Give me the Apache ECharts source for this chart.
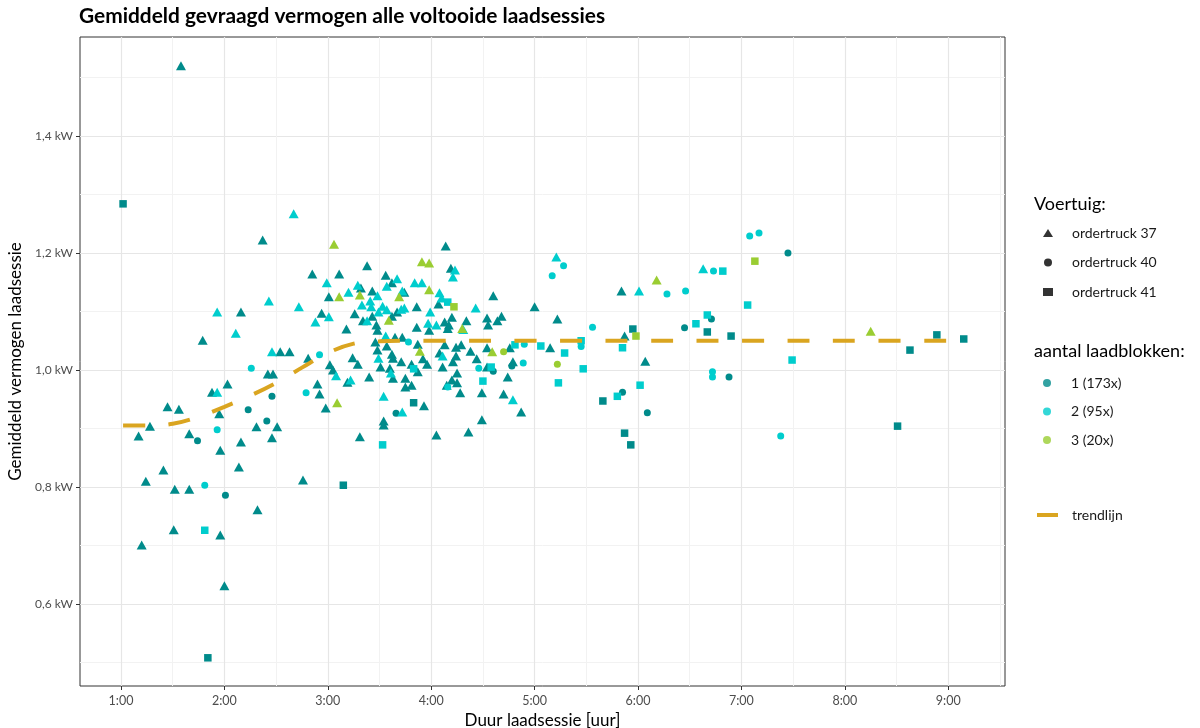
<!DOCTYPE html>
<html><head><meta charset="utf-8">
<script src="https://cdn.jsdelivr.net/npm/echarts@6/dist/echarts.min.js"></script>
<style>html,body{margin:0;padding:0;background:#fff}#c{width:1200px;height:728px}</style>
</head><body><div id="c"></div>
<script>
// ---- axis ticks ----
const xTickValues = [1, 2, 3, 4, 5, 6, 7, 8, 9];
const xMinorValues = [1.5, 2.5, 3.5, 4.5, 5.5, 6.5, 7.5, 8.5, 9.5];
const yTickValues = [0.6, 0.8, 1.0, 1.2, 1.4];
const yMinorValues = [0.5, 0.7, 0.9, 1.1, 1.3, 1.5];

// ---- legend labels ----
const vehicleNames = ['ordertruck 37', 'ordertruck 40', 'ordertruck 41'];
const blockNames = ['1 (173x)', '2 (95x)', '3 (20x)'];

// ---- data: [duur (uur), vermogen (kW)] ----
// ordertruck 37 (triangle)
const t37_b1 = [
 [1.58,1.520],[2.37,1.222],[2.85,1.164],[3.11,1.164],[3.38,1.178],[3.01,1.125],[3.32,1.140],[2.16,1.099],
 [2.94,1.097],[3.18,1.070],[3.26,1.096],[3.43,1.092],[3.34,1.084],[1.79,1.051],[3.47,1.077],[2.54,1.031],
 [2.63,1.031],[2.81,1.020],[2.42,0.993],[2.47,0.993],[3.02,1.009],[3.05,1.000],[3.24,1.021],[3.29,1.010],
 [3.40,0.988],[3.19,0.979],[2.90,0.976],[2.92,0.959],[2.98,0.935],[2.03,0.976],[1.88,0.962],[1.95,0.925],
 [1.45,0.937],[1.56,0.933],[1.28,0.904],[1.17,0.887],[1.66,0.891],[2.31,0.903],[2.51,0.903],[2.46,0.884],
 [2.16,0.877],[1.96,0.863],[3.31,0.886],[2.14,0.834],[1.41,0.829],[1.24,0.810],[1.52,0.796],[1.66,0.796],
 [2.76,0.812],[2.32,0.761],[1.51,0.727],[1.96,0.718],[1.20,0.701],[2.00,0.631],[3.43,1.135],[3.56,1.162],
 [3.62,1.149],[3.74,1.133],[3.62,1.092],[3.67,1.099],[3.48,1.068],[3.65,1.056],[3.72,1.056],[4.14,1.212],
 [4.19,1.174],[4.60,1.127],[4.07,1.113],[3.86,1.108],[4.20,1.090],[4.13,1.082],[4.17,1.077],[4.34,1.084],
 [4.54,1.089],[4.64,1.084],[4.68,1.092],[4.55,1.077],[3.86,1.073],[3.98,1.068],[4.16,1.071],[3.46,1.048],
 [3.48,1.034],[3.57,1.041],[3.62,1.027],[3.63,1.020],[3.71,1.014],[3.51,1.005],[3.60,1.003],[3.63,0.986],
 [3.75,0.986],[3.75,0.971],[3.54,0.913],[3.54,0.906],[3.87,1.044],[4.13,1.043],[4.24,1.039],[4.29,1.043],
 [4.38,1.032],[4.54,1.038],[4.76,1.038],[4.08,1.029],[4.24,1.024],[3.92,1.019],[4.44,1.019],[3.81,1.010],
 [3.96,1.010],[4.11,1.005],[4.21,1.014],[4.54,1.005],[3.87,0.997],[4.79,1.014],[4.25,0.995],[3.81,0.974],
 [4.20,0.983],[4.15,0.974],[4.25,0.978],[4.74,0.988],[4.28,0.961],[4.49,0.961],[4.70,0.959],[3.93,0.939],
 [4.87,0.928],[4.49,0.915],[4.05,0.889],[4.36,0.894],[5.00,1.108],[5.22,1.087],[5.15,1.038],[5.84,1.135],
 [5.87,1.058],[6.07,1.015]
];
const t37_b2 = [
 [2.67,1.267],[2.99,1.149],[3.20,1.133],[1.93,1.099],[2.43,1.118],[2.72,1.108],[3.01,1.091],[2.88,1.082],
 [3.33,1.111],[3.38,1.084],[2.11,1.063],[2.46,1.031],[3.08,0.990],[3.22,0.983],[1.93,0.962],[3.29,1.145],
 [3.48,1.127],[3.57,1.143],[3.67,1.156],[3.72,1.135],[3.42,1.108],[3.49,1.099],[3.53,1.109],[3.57,1.103],
 [3.71,1.104],[3.74,1.106],[3.56,1.058],[4.23,1.171],[4.21,1.159],[3.84,1.149],[3.91,1.149],[4.08,1.132],
 [4.10,1.123],[4.43,1.106],[3.99,1.099],[3.97,1.080],[4.05,1.077],[4.31,1.069],[3.49,1.020],[3.61,0.995],
 [3.54,0.955],[3.72,0.928],[4.11,1.024],[4.79,0.949],[3.41,1.118],[5.21,1.193],[6.01,1.135],[6.63,1.173]
];
const t37_b3 = [
 [3.06,1.215],[3.11,1.125],[3.31,1.128],[3.69,1.125],[3.59,1.085],[3.91,1.185],[3.98,1.183],[3.98,1.137],
 [4.30,1.071],[3.09,0.944],[3.89,1.032],[4.59,1.031],[6.18,1.154],[8.25,1.066]
];
// ordertruck 40 (circle)
const t40_b1 = [
 [2.46,0.955],[2.23,0.932],[1.74,0.879],[2.41,0.913],[2.01,0.786],[3.66,0.926],[4.60,0.998],[4.78,1.007],
 [6.71,1.087],[6.45,1.072],[5.85,0.962],[6.09,0.927],[6.88,0.988],[7.45,1.200]
];
const t40_b2 = [
 [2.92,1.026],[2.26,1.003],[2.79,0.961],[1.93,0.898],[1.81,0.803],[3.78,1.048],[4.90,1.044],[4.46,1.003],
 [4.89,1.012],[4.16,0.971],[5.17,1.161],[5.28,1.178],[5.56,1.073],[6.28,1.130],[6.46,1.135],[6.73,1.169],
 [7.08,1.229],[7.17,1.234],[5.45,1.040],[6.72,0.997],[6.72,0.988],[7.38,0.887]
];
const t40_b3 = [[4.70,1.031],[5.22,1.010]];
// ordertruck 41 (square)
const t41_b1 = [
 [1.02,1.284],[1.84,0.508],[3.15,0.803],[3.83,0.944],[5.95,1.070],[6.67,1.065],[6.90,1.058],[5.66,0.947],
 [5.87,0.892],[5.93,0.872],[8.89,1.060],[9.15,1.053],[8.63,1.034],[8.51,0.904]
];
const t41_b2 = [
 [1.81,0.726],[3.53,0.872],[4.16,1.116],[3.83,1.002],[4.58,1.005],[4.50,0.981],[4.81,1.043],[5.06,1.041],
 [5.23,0.978],[6.82,1.169],[7.06,1.111],[6.67,1.094],[6.56,1.079],[5.85,1.038],[5.45,1.050],[5.29,1.029],
 [5.47,1.002],[6.02,0.974],[5.80,0.955],[7.49,1.017]
];
const t41_b3 = [[4.22,1.108],[5.98,1.058],[7.13,1.186]];

// trend line
const trendX = [1.02,1.25,1.5,1.75,2.0,2.25,2.5,2.75,3.0,3.25,3.5,3.75,4.0,5.0,6.0,7.0,8.0,9.14];
const trendY = [0.905,0.905,0.908,0.920,0.937,0.956,0.978,1.004,1.029,1.045,1.049,1.050,1.050,1.050,1.050,1.050,1.050,1.050];

// ---- styles ----
const FONT = 'Lato, "Open Sans", sans-serif';
const C1 = '#008B8B', C2 = '#00CDCD', C3 = '#9ACD32', CT = '#DAA520';
const SYM = {t37: 'triangle', t40: 'circle', t41: 'rect'};
const SYMSIZE = {t37: [10, 9], t40: 7, t41: 7.5};

const groups = [
  ['t37', 1, t37_b1], ['t40', 1, t40_b1], ['t41', 1, t41_b1],
  ['t37', 2, t37_b2], ['t40', 2, t40_b2], ['t41', 2, t41_b2],
  ['t37', 3, t37_b3], ['t40', 3, t40_b3], ['t41', 3, t41_b3]
];
const colorOf = {1: C1, 2: C2, 3: C3};

const series = [];
groups.forEach(([v, b, d]) => {
  series.push({
    type: 'scatter', name: v + '_' + b, xAxisIndex: 0, yAxisIndex: 0,
    data: d, symbol: SYM[v], symbolSize: SYMSIZE[v],
    itemStyle: {color: colorOf[b], opacity: 1}, z: 2 + b, silent: true
  });
});
series.push({
  type: 'line', name: 'trendlijn', data: trendX.map((x, i) => [x, trendY[i]]),
  smooth: 0.35, symbol: 'none', z: 10, silent: true,
  itemStyle: {color: CT},
  lineStyle: {color: CT, width: 4, type: [22, 23.5], cap: 'butt'}
});
// legend-only series
[['ordertruck 37','triangle'],['ordertruck 40','circle'],['ordertruck 41','rect']].forEach(([n, s]) => {
  series.push({type: 'scatter', name: n, data: [], symbol: s, itemStyle: {color: '#000'}});
});
blockNames.forEach((n, i) => {
  series.push({type: 'scatter', name: n, data: [], symbol: 'circle', itemStyle: {color: [C1, C2, C3][i]}});
});

const gridL = 80, gridT = 37, gridR = 1200 - 1005, gridB = 728 - 686;
const xMin = 0.6035, xMax = 9.549, yMin = 0.4598, yMax = 1.5692;

const fmtX = v => Math.round(v) + ':00';
const fmtY = v => v.toFixed(1).replace('.', ',') + ' kW';

const legendText = {fontFamily: FONT, fontSize: 14, color: '#1a1a1a', lineHeight: 14, padding: [0, 0, 0, 14]};

const option = {
  backgroundColor: '#fff',
  animation: false,
  textStyle: {fontFamily: FONT},
  title: [
    {text: 'Gemiddeld gevraagd vermogen alle voltooide laadsessies', left: 79, top: 6, padding: 0,
     textStyle: {fontFamily: FONT, fontSize: 20.9, fontWeight: 'bold', color: '#000'}},
    {text: 'Voertuig:', left: 1034, top: 195, padding: 0,
     textStyle: {fontFamily: FONT, fontSize: 18, fontWeight: 'normal', color: '#000'}},
    {text: 'aantal laadblokken:', left: 1034, top: 342, padding: 0,
     textStyle: {fontFamily: FONT, fontSize: 18, fontWeight: 'normal', color: '#000'}}
  ],
  legend: [
    {data: vehicleNames, orient: 'vertical', left: 1043, top: 226, padding: 0,
     itemWidth: 10, itemHeight: 8, itemGap: 15.5, selectedMode: false,
     textStyle: legendText},
    {data: blockNames, orient: 'vertical', left: 1043, top: 376, padding: 0,
     itemWidth: 10, itemHeight: 8, itemGap: 14.5, selectedMode: false,
     textStyle: legendText},
    {data: [{name: 'trendlijn', icon: 'rect', itemStyle: {color: CT}}], orient: 'vertical', left: 1037, top: 508, padding: 0,
     itemWidth: 21, itemHeight: 4, selectedMode: false,
     textStyle: Object.assign({}, legendText, {padding: [0, 0, 0, 9]})}
  ],
  grid: {left: gridL, top: gridT, right: gridR, bottom: gridB, show: true,
         borderColor: '#333', borderWidth: 1, backgroundColor: '#fff', containLabel: false, outerBoundsMode: 'none'},
  xAxis: [
    {type: 'value', min: xMin, max: xMax, position: 'bottom',
     name: 'Duur laadsessie [uur]', nameLocation: 'middle', nameGap: 23,
     nameTextStyle: {fontFamily: FONT, fontSize: 17, color: '#000'},
     axisLine: {show: false},
     axisTick: {show: true, length: 4, lineStyle: {color: '#333'}, customValues: xTickValues},
     axisLabel: {customValues: xTickValues, formatter: fmtX, color: '#4d4d4d', fontSize: 12.5, margin: 8, fontFamily: FONT},
     splitLine: {show: true, lineStyle: {color: '#e6e6e6', width: 1.2}}},
    {type: 'value', min: xMin, max: xMax, position: 'top',
     axisLine: {show: false}, axisLabel: {show: false},
     axisTick: {show: false, customValues: xMinorValues},
     splitLine: {show: true, lineStyle: {color: '#f2f2f2', width: 1}}}
  ],
  yAxis: [
    {type: 'value', min: yMin, max: yMax, position: 'left',
     name: 'Gemiddeld vermogen laadsessie', nameLocation: 'middle', nameGap: 53,
     nameTextStyle: {fontFamily: FONT, fontSize: 17, color: '#000'},
     axisLine: {show: false},
     axisTick: {show: true, length: 4, lineStyle: {color: '#333'}, customValues: yTickValues},
     axisLabel: {customValues: yTickValues, formatter: fmtY, color: '#4d4d4d', fontSize: 12, margin: 7, fontFamily: FONT},
     splitLine: {show: true, lineStyle: {color: '#e6e6e6', width: 1.2}}},
    {type: 'value', min: yMin, max: yMax, position: 'right',
     axisLine: {show: false}, axisLabel: {show: false},
     axisTick: {show: false, customValues: yMinorValues},
     splitLine: {show: true, lineStyle: {color: '#f2f2f2', width: 1}}}
  ],
  series: series
};

const chart = echarts.init(document.getElementById('c'), null, {renderer: 'canvas'});
chart.setOption(option);
</script>
</body></html>
